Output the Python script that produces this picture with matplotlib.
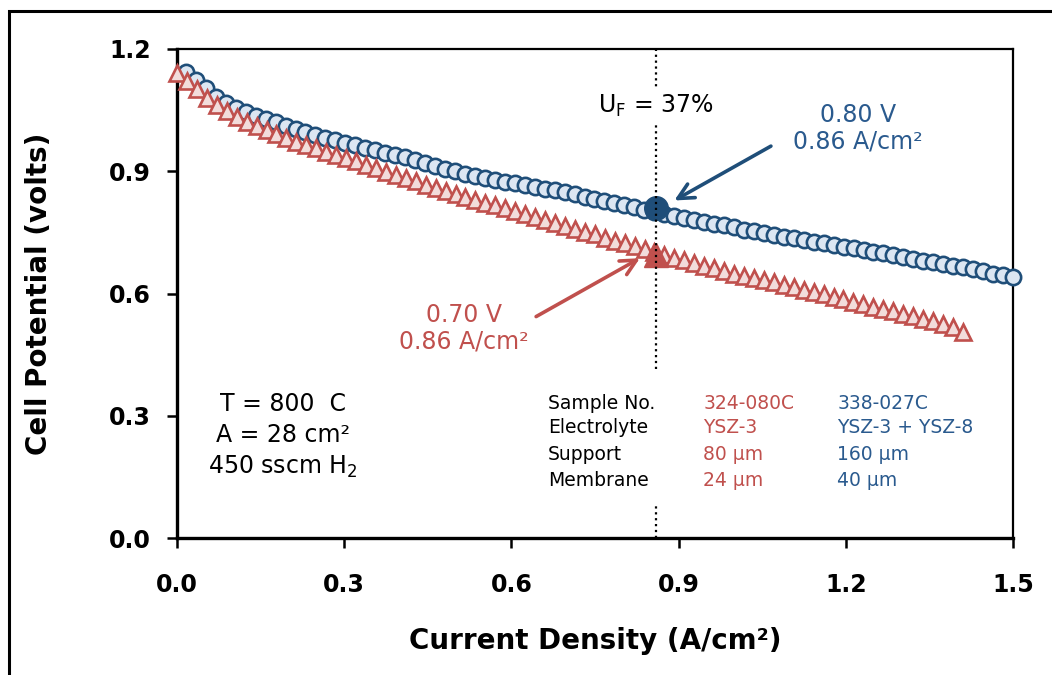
import numpy as np
import matplotlib
matplotlib.use("Agg")
import matplotlib.pyplot as plt
from matplotlib.patches import Rectangle

plt.rcParams['font.family'] = ['DejaVu Sans']
plt.rcParams['mathtext.default'] = 'regular'

# current density sampling (A/cm2)
blue_x = np.linspace(0.016, 1.50, 84)
red_x = np.linspace(0.0, 1.41, 80)

# cell potential (V)
blue_v = [1.144, 1.124, 1.104, 1.083, 1.068, 1.056, 1.045, 1.036, 1.028, 1.020,
          1.012, 1.004, 0.996, 0.989, 0.982, 0.976, 0.970, 0.965, 0.958, 0.951,
          0.945, 0.939, 0.934, 0.928,
          0.921, 0.913, 0.906, 0.900, 0.894, 0.889, 0.884, 0.879, 0.874, 0.870,
          0.866, 0.861, 0.857, 0.853, 0.848, 0.843, 0.838, 0.833, 0.828, 0.823,
          0.817, 0.812, 0.806, 0.801, 0.795, 0.790, 0.785, 0.780, 0.775, 0.771,
          0.768, 0.762, 0.757, 0.753, 0.749, 0.744, 0.739, 0.736, 0.731, 0.727,
          0.723, 0.719, 0.715, 0.711, 0.707, 0.703, 0.699, 0.694, 0.690, 0.685,
          0.680, 0.677, 0.672, 0.668, 0.664, 0.659, 0.654, 0.649, 0.645, 0.640]

red_v = [1.140, 1.121, 1.101, 1.080, 1.063, 1.048, 1.034, 1.022, 1.011, 1.002,
         0.992, 0.981, 0.973, 0.965, 0.957, 0.948, 0.940, 0.932, 0.924, 0.916,
         0.908, 0.899, 0.890, 0.883, 0.876,
         0.866, 0.859, 0.852, 0.845, 0.838, 0.830, 0.823, 0.816, 0.809, 0.802,
         0.795, 0.788, 0.780, 0.773, 0.766, 0.759, 0.752, 0.745, 0.737, 0.730,
         0.723, 0.716, 0.708, 0.701, 0.694, 0.688, 0.681, 0.675, 0.668, 0.662,
         0.655, 0.649, 0.644, 0.638, 0.632, 0.627, 0.621, 0.615, 0.609, 0.603,
         0.598, 0.592, 0.586, 0.580, 0.574, 0.568, 0.562, 0.556, 0.550, 0.544,
         0.538, 0.532, 0.525, 0.518, 0.505]

# operating points at U_F = 37%
uf_current = 0.86
blue_op = 0.80
red_op = 0.70

table_rows = ["Sample No.", "Electrolyte", "Support", "Membrane"]
red_info = ["324-080C", "YSZ-3", "80 µm", "24 µm"]
blue_info = ["338-027C", "YSZ-3 + YSZ-8", "160 µm", "40 µm"]

BLUE = "#1F4E79"
BLUE_FACE = "#DCE6F2"
RED = "#C0504D"
RED_FACE = "#F2DCDB"
BLUE_TXT = "#2A5A8E"

fig = plt.figure(figsize=(10.52, 6.75), dpi=100)
ax = fig.add_axes([177/1052, 1 - 538/675, (1013 - 177)/1052, (538 - 49)/675])

# outer frame of the picture
fig.patches.append(Rectangle((9/1052, -0.5), 2.0, 1.5 - 11/675,
                             transform=fig.transFigure, fill=False,
                             edgecolor="black", linewidth=2.2, zorder=0))

ax.plot(blue_x, blue_v, linestyle="none", marker="o", markersize=11,
        markerfacecolor=BLUE_FACE, markeredgecolor=BLUE, markeredgewidth=1.9,
        clip_on=False, zorder=3)
ax.plot(red_x, red_v, linestyle="none", marker="^", markersize=11,
        markerfacecolor=RED_FACE, markeredgecolor=RED, markeredgewidth=1.9,
        clip_on=False, zorder=4)

ax.plot([uf_current], [blue_op + 0.01], linestyle="none", marker="o", markersize=17,
        color=BLUE, zorder=6)
ax.plot([uf_current], [red_op - 0.005], linestyle="none", marker="^", markersize=17,
        color=RED, zorder=6)

# U_F dotted line
ax.axvline(uf_current, ymin=0.0, ymax=0.068, color="black", linestyle=":",
           linewidth=1.6, zorder=7)
ax.axvline(uf_current, ymin=0.345, ymax=1.0, color="black", linestyle=":",
           linewidth=1.6, zorder=7)
ax.text(uf_current, 1.06, "U$_F$ = 37%", ha="center", va="center", fontsize=17,
        zorder=8, bbox=dict(facecolor="white", edgecolor="none", pad=2))

# annotations
ax.annotate("", xy=(uf_current + 0.028, blue_op + 0.025), xytext=(1.07, 0.965),
            arrowprops=dict(arrowstyle="->", color=BLUE, lw=2.6,
                            mutation_scale=28), zorder=8)
ax.text(1.222, 1.005, "0.80 V\n0.86 A/cm²", ha="center", va="center",
        fontsize=17, color=BLUE_TXT, linespacing=1.15)

ax.annotate("", xy=(uf_current - 0.025, red_op - 0.01), xytext=(0.64, 0.54),
            arrowprops=dict(arrowstyle="->", color=RED, lw=2.6,
                            mutation_scale=28), zorder=8)
ax.text(0.515, 0.515, "0.70 V\n0.86 A/cm²", ha="center", va="center",
        fontsize=17, color=RED, linespacing=1.15)

# conditions
ax.text(0.19, 0.25, "T = 800  C\nA = 28 cm²\n450 sscm H$_2$", ha="center",
        va="center", fontsize=17, linespacing=1.35)

# sample table
row_y = [0.33, 0.27, 0.205, 0.14]
for i in range(len(table_rows)):
    ax.text(0.665, row_y[i], table_rows[i], ha="left", va="center", fontsize=13.5)
    ax.text(0.944, row_y[i], red_info[i], ha="left", va="center", fontsize=13.5,
            color=RED)
    ax.text(1.185, row_y[i], blue_info[i], ha="left", va="center", fontsize=13.5,
            color=BLUE_TXT)

ax.set_xlim(0, 1.5)
ax.set_ylim(0, 1.2)
ax.set_xticks(np.arange(0, 1.51, 0.3))
ax.set_yticks(np.arange(0, 1.21, 0.3))
ax.xaxis.set_major_formatter(plt.FormatStrFormatter("%.1f"))
ax.yaxis.set_major_formatter(plt.FormatStrFormatter("%.1f"))
ax.tick_params(axis="both", direction="out", length=7, width=1.8,
               labelsize=17)
ax.tick_params(axis="x", pad=18)
ax.tick_params(axis="y", pad=12)
for lab in ax.get_xticklabels() + ax.get_yticklabels():
    lab.set_fontweight("bold")

for side in ["left", "bottom"]:
    ax.spines[side].set_linewidth(2.4)
for side in ["top", "right"]:
    ax.spines[side].set_linewidth(1.6)

ax.set_xlabel("Current Density (A/cm²)", fontsize=20, fontweight="bold",
              labelpad=22)
ax.set_ylabel("Cell Potential (volts)", fontsize=20, fontweight="bold",
              labelpad=40)

fig.savefig("out.png", dpi=100)
